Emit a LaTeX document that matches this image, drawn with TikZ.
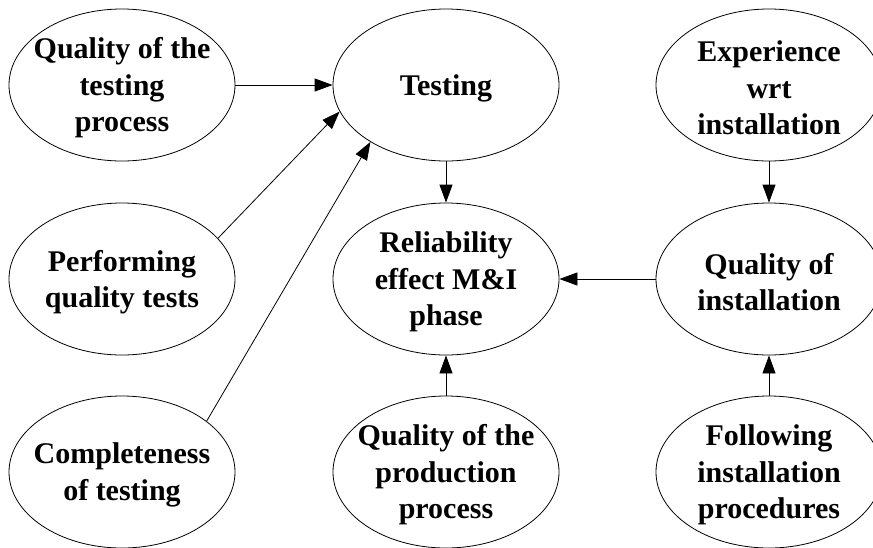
\documentclass[tikz,border=0pt]{standalone}
\usepackage{fontspec}
\setmainfont{Liberation Serif}
\usetikzlibrary{shapes.geometric,arrows.meta}
\begin{document}
\begin{tikzpicture}[x=1pt,y=-1pt,
  oval/.style={ellipse,draw,line width=0.8pt,minimum width=226pt,minimum height=152pt,inner sep=0pt},
  txt/.style={align=center,inner sep=0pt,yshift=-3pt,font=\fontsize{30}{36.5}\selectfont\bfseries},
  arr/.style={line width=0.8pt,-{Triangle[length=18pt,width=13pt]}}]
\useasboundingbox (0,0) rectangle (873,547);
% row 1
\node[oval] (qtp) at (122,85) {};
\node[txt] (qtpt) at (qtp) {Quality of the\\testing\\process};
\node[oval] (test) at (446,85) {};
\node[txt] (testt) at (test) {Testing};
\node[oval] (exp) at (769,85) {};
\node[txt] (expt) at (exp) {Experience\\wrt\\installation};
% row 2
\node[oval] (pqt) at (122,279) {};
\node[txt] (pqtt) at (pqt) {Performing\\quality tests};
\node[oval] (rel) at (446,279) {};
\node[txt] (relt) at (rel) {Reliability\\effect M\&I\\phase};
\node[oval] (qoi) at (769,279) {};
\node[txt] (qoit) at (qoi) {Quality of\\installation};
% row 3
\node[oval] (cot) at (122,472) {};
\node[txt] (cott) at (cot) {Completeness\\of testing};
\node[oval] (qpp) at (446,472) {};
\node[txt] (qppt) at (qpp) {Quality of the\\production\\process};
\node[oval] (fip) at (769,472) {};
\node[txt] (fipt) at (fip) {Following\\installation\\procedures};
% connectors
\draw[arr] (qtp.east) -- (test.west);
\draw[arr] (pqt.23) -- (test.194);
\draw[arr] (cot.31) -- (test.217);
\draw[arr] (test.south) -- (rel.north);
\draw[arr] (exp.south) -- (qoi.north);
\draw[arr] (qoi.west) -- (rel.east);
\draw[arr] (qpp.north) -- (rel.south);
\draw[arr] (fip.north) -- (qoi.south);
\end{tikzpicture}
\end{document}
